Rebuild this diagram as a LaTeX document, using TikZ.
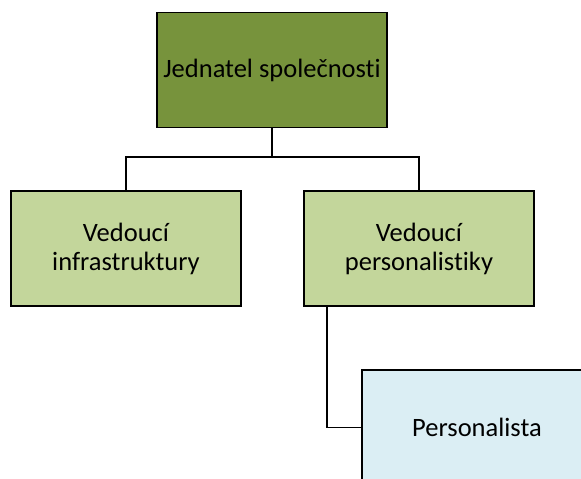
\documentclass[tikz,border=0pt]{standalone}
\usepackage{fontspec}
\setmainfont[Ligatures=NoCommon]{Carlito}
\definecolor{olivedark}{HTML}{77933C}
\definecolor{olivelight}{HTML}{C3D69B}
\definecolor{paleblue}{HTML}{DBEEF4}
\begin{document}
\begin{tikzpicture}[x=1pt,y=-1pt,
  orgbox/.style={draw=black, line width=1.9pt, minimum width=230pt, minimum height=115pt,
    inner sep=0pt, align=center, font=\fontsize{26.5}{29}\selectfont},
  link/.style={draw=black, line width=1.9pt}]
  \useasboundingbox (0,0) rectangle (581,479);
  \node[orgbox, fill=olivedark] (ceo) at (272,70) {Jednatel společnosti};
  \node[orgbox, fill=olivelight] (infra) at (126,248.5) {Vedoucí\\infrastruktury};
  \node[orgbox, fill=olivelight] (hr) at (419,248.5) {Vedoucí\\personalistiky};
  \node[orgbox, fill=paleblue] (staff) at (477,427.5) {Personalista};
  \coordinate (bus) at (272,157);
  \draw[link] (ceo.south) -- (bus);
  \draw[link] (infra.north) |- (bus) -| (hr.north);
  \coordinate (drop) at (327,0);
  \draw[link] (drop |- hr.south) |- (staff.west);
\end{tikzpicture}
\end{document}
